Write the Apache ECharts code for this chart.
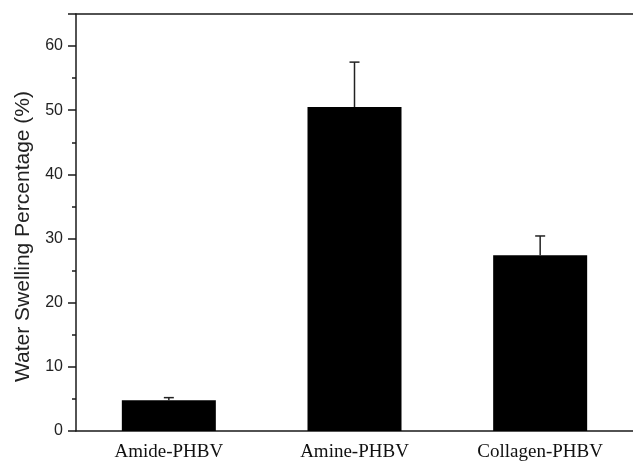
<!DOCTYPE html>
<html>
<head>
<meta charset="utf-8">
<script src="https://cdn.jsdelivr.net/npm/echarts@6/dist/echarts.min.js"></script>
<style>html,body{margin:0;padding:0;background:#fff;}#chart{width:633px;height:467px;}</style>
</head>
<body>
<div id="chart"></div>
<script>
var categories = ['Amide-PHBV', 'Amine-PHBV', 'Collagen-PHBV'];
var values = [4.8, 50.5, 27.4];
var errors = [0.4, 7.0, 3.0];
var yTicks = [0, 10, 20, 30, 40, 50, 60];

var chart = echarts.init(document.getElementById('chart'));
var axisLineStyle = {color: '#1a1a1a', width: 1.5};
chart.setOption({
  animation: false,
  backgroundColor: '#fff',
  grid: {left: 76, right: 0, top: 14, bottom: 36, containLabel: false},
  xAxis: [{
    type: 'category',
    data: categories,
    axisLine: {show: true, lineStyle: axisLineStyle},
    axisTick: {show: false},
    axisLabel: {fontFamily: 'Liberation Serif', fontSize: 19, color: '#111', margin: 12}
  }, {
    type: 'category',
    data: categories,
    position: 'top',
    axisLine: {show: true, lineStyle: axisLineStyle},
    axisTick: {show: false},
    axisLabel: {show: false}
  }],
  yAxis: {
    type: 'value',
    min: 0, max: 65, interval: 10,
    name: 'Water Swelling Percentage (%)',
    nameLocation: 'middle',
    nameGap: 42,
    nameTextStyle: {fontFamily: 'Liberation Sans', fontSize: 21, color: '#222', padding: [0, 28, 0, 0]},
    axisLine: {show: true, lineStyle: axisLineStyle},
    axisTick: {show: true, length: 8, lineStyle: {color: '#1a1a1a', width: 1.5}},
    minorTick: {show: true, splitNumber: 2, length: 4, lineStyle: {color: '#1a1a1a', width: 1.5}},
    splitLine: {show: false},
    axisLabel: {fontFamily: 'Liberation Sans', fontSize: 16, color: '#222', margin: 13,
      formatter: function (v) { return yTicks.indexOf(v) >= 0 ? String(v) : ''; }}
  },
  series: [{
    type: 'bar',
    data: values,
    barWidth: 94,
    itemStyle: {color: '#000'}
  }, {
    type: 'custom',
    data: categories.map(function (c, i) { return [i, values[i], values[i] + errors[i]]; }),
    z: 5,
    renderItem: function (params, api) {
      var low = api.coord([api.value(0), api.value(1)]);
      var high = api.coord([api.value(0), api.value(2)]);
      var hw = 5;
      var style = {stroke: '#222', lineWidth: 1.5};
      return {
        type: 'group',
        children: [
          {type: 'line', shape: {x1: low[0], y1: low[1], x2: high[0], y2: high[1]}, style: style},
          {type: 'line', shape: {x1: high[0] - hw, y1: high[1], x2: high[0] + hw, y2: high[1]}, style: style}
        ]
      };
    }
  }]
});
</script>
</body>
</html>
